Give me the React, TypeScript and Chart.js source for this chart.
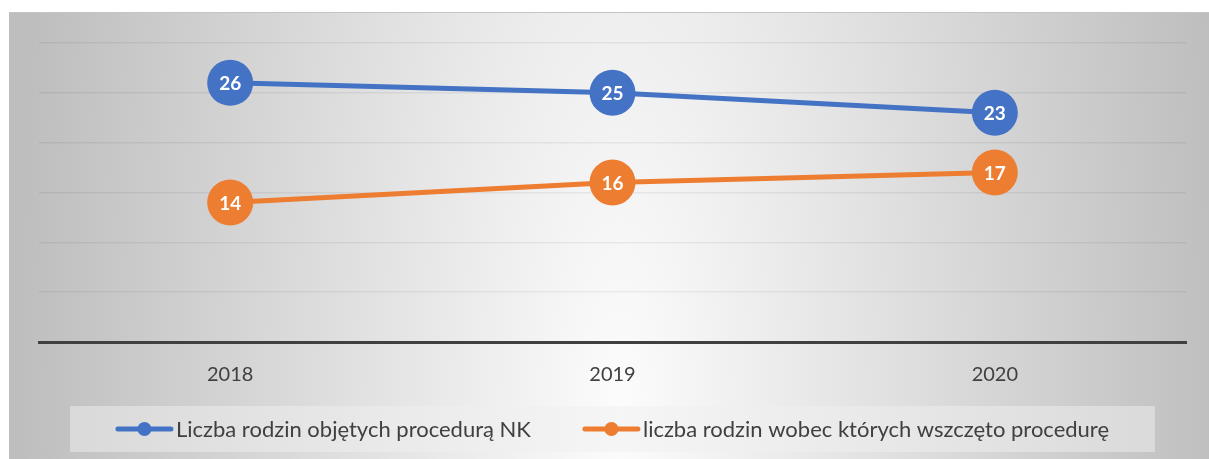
import React, { useEffect, useRef } from "react";
import { Chart, registerables } from "chart.js";

Chart.register(...registerables);

const categories: string[] = ["2018", "2019", "2020"];
const seriesNames: string[] = [
  "Liczba rodzin objętych procedurą NK",
  "liczba rodzin wobec których wszczęto procedurę",
];
const familiesNK: number[] = [26, 25, 23];
const familiesStarted: number[] = [14, 16, 17];
const seriesColors: string[] = ["#4472C4", "#ED7D31"];
const yMin = 0;
const yMax = 30;
const yStep = 5;

const FONT = "Lato, 'Open Sans', sans-serif";
const TEXT_COLOR = "#404040";

const valueLabelsPlugin = {
  id: "valueLabels",
  afterDatasetsDraw(chart: any) {
    const ctx = chart.ctx;
    ctx.save();
    ctx.font = `bold 19px ${FONT}`;
    ctx.fillStyle = "#ffffff";
    ctx.textAlign = "center";
    ctx.textBaseline = "middle";
    chart.data.datasets.forEach((ds: any, i: number) => {
      const meta = chart.getDatasetMeta(i);
      meta.data.forEach((pt: any, j: number) => {
        ctx.fillText(String(ds.data[j]), pt.x, pt.y + 1);
      });
    });
    ctx.restore();
  },
};

const boxLegendPlugin = {
  id: "boxLegend",
  afterDraw(chart: any) {
    const ctx = chart.ctx;
    const area = chart.chartArea;
    const markerW = 57;
    const markerGap = 3;
    const itemGap = 52;
    const padX = 46;
    const boxH = 46;
    const boxTop = 393;
    ctx.save();
    ctx.font = `22px ${FONT}`;
    const items = chart.data.datasets.map((ds: any) => ({
      label: ds.label as string,
      color: ds.borderColor as string,
      w: ctx.measureText(ds.label).width,
    }));
    let content = 0;
    items.forEach((it: any, i: number) => {
      content += markerW + markerGap + it.w + (i > 0 ? itemGap : 0);
    });
    const boxW = content + padX * 2;
    const cx = (area.left + area.right) / 2;
    const boxLeft = cx - boxW / 2;
    ctx.fillStyle = "rgba(240,240,240,0.5)";
    ctx.fillRect(boxLeft, boxTop, boxW, boxH);
    const cy = boxTop + boxH / 2;
    let x = boxLeft + padX;
    items.forEach((it: any, i: number) => {
      if (i > 0) x += itemGap;
      ctx.strokeStyle = it.color;
      ctx.lineWidth = 5;
      ctx.lineCap = "round";
      ctx.beginPath();
      ctx.moveTo(x + 2, cy);
      ctx.lineTo(x + markerW - 2, cy);
      ctx.stroke();
      ctx.fillStyle = it.color;
      ctx.beginPath();
      ctx.arc(x + markerW / 2, cy, 7, 0, Math.PI * 2);
      ctx.fill();
      x += markerW + markerGap;
      ctx.fillStyle = TEXT_COLOR;
      ctx.textAlign = "left";
      ctx.textBaseline = "middle";
      ctx.fillText(it.label, x, cy + 1);
      x += it.w;
    });
    ctx.restore();
  },
};

export default function App() {
  const canvasRef = useRef<HTMLCanvasElement | null>(null);

  useEffect(() => {
    if (!canvasRef.current) return;
    const chart = new Chart(canvasRef.current, {
      type: "line",
      data: {
        labels: categories,
        datasets: [
          {
            label: seriesNames[0],
            data: familiesNK,
            borderColor: seriesColors[0],
            backgroundColor: seriesColors[0],
            borderWidth: 5,
            pointRadius: 23,
            pointHoverRadius: 23,
            pointBorderWidth: 0,
            pointBackgroundColor: seriesColors[0],
            tension: 0,
          },
          {
            label: seriesNames[1],
            data: familiesStarted,
            borderColor: seriesColors[1],
            backgroundColor: seriesColors[1],
            borderWidth: 5,
            pointRadius: 23,
            pointHoverRadius: 23,
            pointBorderWidth: 0,
            pointBackgroundColor: seriesColors[1],
            tension: 0,
          },
        ],
      },
      options: {
        animation: false,
        responsive: true,
        maintainAspectRatio: false,
        layout: { padding: { left: 30, right: 19, top: 30, bottom: 0 } },
        plugins: {
          legend: { display: false },
          tooltip: { enabled: false },
        },
        scales: {
          x: {
            type: "category",
            offset: true,
            grid: { display: false, drawTicks: false },
            border: { display: true, color: "#404040", width: 3 },
            ticks: {
              color: TEXT_COLOR,
              font: { family: FONT, size: 20 },
              padding: 21,
            },
            afterFit(scale: any) {
              scale.height = 117;
            },
          },
          y: {
            min: yMin,
            max: yMax,
            ticks: { display: false, stepSize: yStep },
            grid: { color: "rgba(0,0,0,0.06)", lineWidth: 1.5, drawTicks: false },
            border: { display: false },
            afterFit(scale: any) {
              scale.width = 0;
            },
          },
        },
      },
      plugins: [valueLabelsPlugin, boxLegendPlugin],
    } as any);
    return () => chart.destroy();
  }, []);

  return (
    <div
      style={{
        position: "absolute",
        left: 9,
        top: 12,
        width: 1200,
        height: 447,
        borderTop: "1px solid #c4c4c4",
        boxSizing: "border-box",
        background:
          "radial-gradient(ellipse 620px 1900px at 612px 400px, #fcfcfc 0%, #bebebe 97%)",
      }}
    >
      <canvas ref={canvasRef} />
    </div>
  );
}
